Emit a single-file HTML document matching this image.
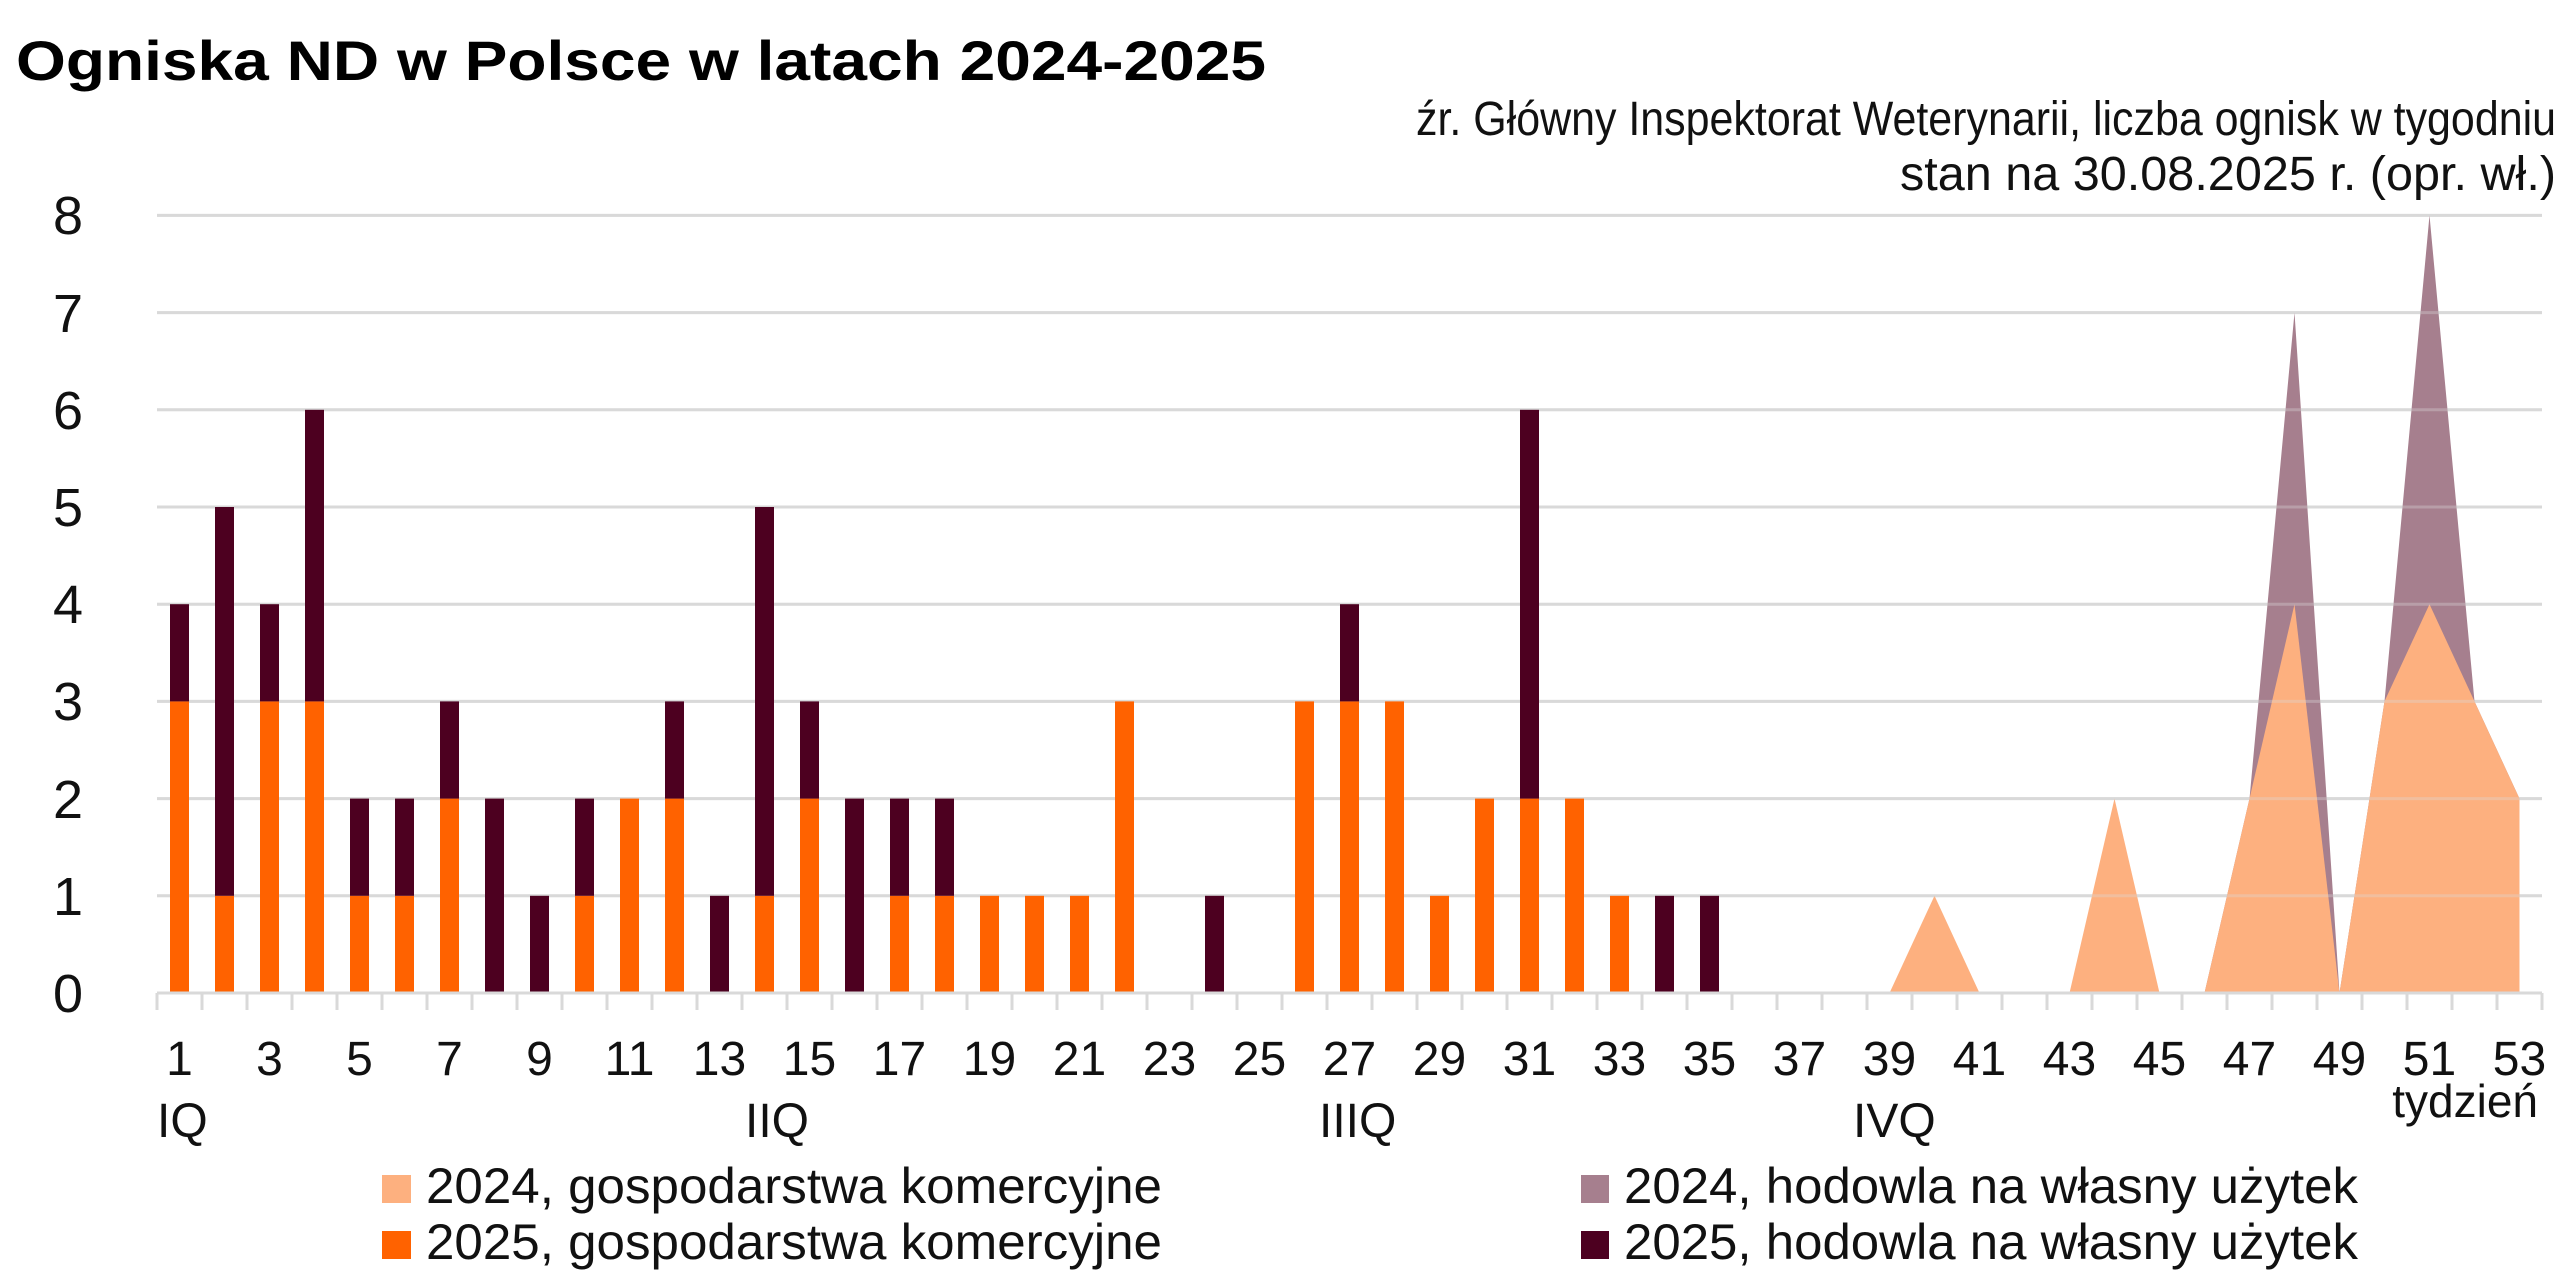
<!DOCTYPE html>
<html><head><meta charset="utf-8"><style>
html,body{margin:0;padding:0;background:#fff;}
svg{display:block;font-family:"Liberation Sans",sans-serif;}
</style></head><body>
<svg id="s" width="2576" height="1274" viewBox="0 0 2576 1274" xmlns="http://www.w3.org/2000/svg">
<rect width="2576" height="1274" fill="#fff"/>
<text x="16" y="80" font-size="56" font-weight="bold" fill="#000" textLength="1250" lengthAdjust="spacingAndGlyphs">Ogniska ND w Polsce w latach 2024-2025</text>
<text x="2556" y="135" font-size="48" text-anchor="end" fill="#111" textLength="1140" lengthAdjust="spacingAndGlyphs">źr. Główny Inspektorat Weterynarii, liczba ognisk w tygodniu</text>
<text x="2556" y="190" font-size="48" text-anchor="end" fill="#111" textLength="656" lengthAdjust="spacingAndGlyphs">stan na 30.08.2025 r. (opr. wł.)</text>
<g id="grid"></g>
<g id="areas"></g>
<g id="grid2"></g>
<g id="bars"></g>
<g id="axis"></g>
<g font-size="54" fill="#111" text-anchor="middle" id="ylab">
<text x="68" y="1012">0</text><text x="68" y="915">1</text><text x="68" y="818">2</text><text x="68" y="720">3</text><text x="68" y="623">4</text><text x="68" y="526">5</text><text x="68" y="429">6</text><text x="68" y="332">7</text><text x="68" y="234">8</text>
</g>
<g font-size="48" fill="#111" text-anchor="middle" id="xlab"></g>
<g font-size="48" fill="#111">
<text x="157" y="1137">IQ</text>
<text x="745" y="1137">IIQ</text>
<text x="1319" y="1137">IIIQ</text>
<text x="1853" y="1137">IVQ</text>
<text x="2538" y="1117" text-anchor="end" font-size="46">tydzień</text>
</g>
<g font-size="50" fill="#111">
<rect x="382" y="1175" width="29" height="28" fill="#fdb07f"/>
<text x="426" y="1203" textLength="736" lengthAdjust="spacingAndGlyphs">2024, gospodarstwa komercyjne</text>
<rect x="382" y="1231" width="29" height="28" fill="#ff6200"/>
<text x="426" y="1259" textLength="736" lengthAdjust="spacingAndGlyphs">2025, gospodarstwa komercyjne</text>
<rect x="1581" y="1175" width="28" height="28" fill="#a67f8e"/>
<text x="1624" y="1203" textLength="734" lengthAdjust="spacingAndGlyphs">2024, hodowla na własny użytek</text>
<rect x="1581" y="1231" width="28" height="28" fill="#4d0020"/>
<text x="1624" y="1259" textLength="734" lengthAdjust="spacingAndGlyphs">2025, hodowla na własny użytek</text>
</g>
</svg>
<script>
const NS="http://www.w3.org/2000/svg";
const L=157,W=45.0,Y0=993,S=97.2;
const cx=i=>L+(i-0.5)*W, yv=v=>Y0-v*S;
function el(p,t,a){const e=document.createElementNS(NS,t);for(const k in a)e.setAttribute(k,a[k]);document.getElementById(p).appendChild(e);return e;}
for(let v=1;v<=8;v++){el('grid','line',{x1:L,x2:L+53*W,y1:yv(v),y2:yv(v),stroke:'#d9d9d9','stroke-width':3});}
const tot24={46:0,47:2,48:7,49:0,50:3,51:8,52:3,53:2};
function poly(d,fill){let pts=[];const ks=Object.keys(d).map(Number).sort((a,b)=>a-b);
 pts.push(cx(ks[0])+','+Y0);for(const k of ks)pts.push(cx(k)+','+yv(d[k]));pts.push(cx(ks[ks.length-1])+','+Y0);
 el('areas','polygon',{points:pts.join(' '),fill:fill});}
poly(tot24,'#a67f8e');
poly({39:0,40:1,41:0},'#fdb07f');poly({43:0,44:2,45:0},'#fdb07f');poly({46:0,47:2,48:4,49:0},'#fdb07f');poly({49:0,50:3,51:4,52:3,53:2},'#fdb07f');
for(let v=1;v<=8;v++){el('grid2','line',{x1:L,x2:L+53*W,y1:yv(v),y2:yv(v),stroke:'#d9d9d9','stroke-width':3,'stroke-opacity':0.35});}
const b=[[3,1],[1,4],[3,1],[3,3],[1,1],[1,1],[2,1],[0,2],[0,1],[1,1],[2,0],[2,1],[0,1],[1,4],[2,1],[0,2],[1,1],[1,1],[1,0],[1,0],[1,0],[3,0],[0,0],[0,1],[0,0],[3,0],[3,1],[3,0],[1,0],[2,0],[2,4],[2,0],[1,0],[0,1],[0,1]];
const bw=19;
b.forEach((d,i)=>{const w=i+1,x=cx(w)-bw/2;
 if(d[0])el('bars','rect',{x:x,y:yv(d[0]),width:bw,height:d[0]*S,fill:'#ff6200'});
 if(d[1])el('bars','rect',{x:x,y:yv(d[0]+d[1]),width:bw,height:d[1]*S,fill:'#4d0020'});});
el('axis','line',{x1:L,x2:L+53*W,y1:Y0,y2:Y0,stroke:'#d9d9d9','stroke-width':3});
for(let i=0;i<=53;i++){el('axis','line',{x1:L+i*W,x2:L+i*W,y1:Y0,y2:Y0+17,stroke:'#d9d9d9','stroke-width':3});}
for(let w=1;w<=53;w+=2){const t=el('xlab','text',{x:cx(w),y:1075});t.textContent=w;}
</script>
</body></html>
